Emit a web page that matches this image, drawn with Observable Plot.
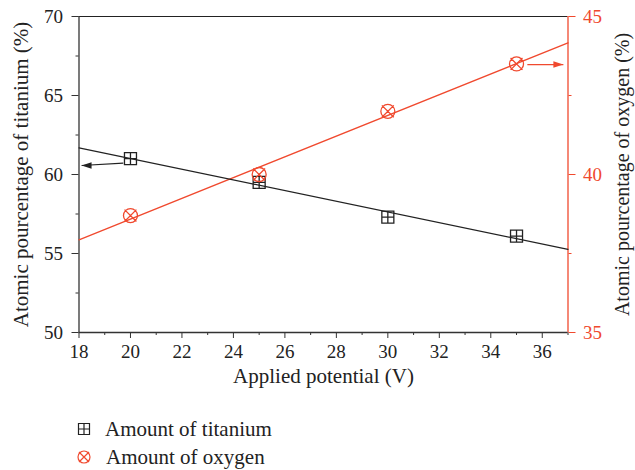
<!DOCTYPE html>
<html>
<head>
<meta charset="utf-8">
<script src="https://cdn.jsdelivr.net/npm/d3@7"></script>
<script src="https://cdn.jsdelivr.net/npm/@observablehq/plot@0.6"></script>
<style>
  html, body { margin: 0; padding: 0; background: #fff; }
  #chart { width: 635px; font-family: "Liberation Serif", "DejaVu Serif", serif; }
  .legend { position: relative; height: 65px; font-family: "Liberation Serif", serif; font-size: 21px; color: #222; }
  .legend .row { position: absolute; left: 76px; height: 24px; display: flex; align-items: center; }
  .legend .row svg { margin-right: 14px; }
</style>
</head>
<body>
<div id="chart"></div>
<script>
// ---- data ----
const voltage = [20, 25, 30, 35];
const titanium = [61.0, 59.5, 57.3, 56.1];   // left axis (%)
const oxygen = [38.7, 40.0, 42.0, 43.5];     // right axis (%)
const seriesNames = ["Amount of titanium", "Amount of oxygen"];
const xTicks = [18, 20, 22, 24, 26, 28, 30, 32, 34, 36];
const xMinor = [19, 21, 23, 25, 27, 29, 31, 33, 35, 37];
const leftTicks = [50, 55, 60, 65, 70];
const leftMinor = [52.5, 57.5, 62.5, 67.5];
const rightTicks = [35, 40, 45];
const rightMinor = [37.5, 42.5];
// annotation arrows (data units: x, titanium %, oxygen %)
const tiArrow = {x1: 19.72, y1: 60.72, x2: 18.1, y2: 60.57};
const oxArrow = {x1: 35.42, y1: 43.48, x2: 36.82, y2: 43.48};

const RED = "#f0492e";
const INK = "#222";
const FONT = "'Liberation Serif', 'DejaVu Serif', serif";
const xDomain = [18, 37];
const yDomain = [50, 70];
const oDomain = [35, 45];
// map oxygen scale onto the left scale
const o2y = o => yDomain[0] + (o - oDomain[0]) * (yDomain[1] - yDomain[0]) / (oDomain[1] - oDomain[0]);
const y2o = y => oDomain[0] + (y - yDomain[0]) * (oDomain[1] - oDomain[0]) / (yDomain[1] - yDomain[0]);

function fit(xs, ys) {
  const mx = d3.mean(xs), my = d3.mean(ys);
  const b = d3.sum(xs, (x, i) => (x - mx) * (ys[i] - my)) / d3.sum(xs, x => (x - mx) ** 2);
  return x => my + b * (x - mx);
}
const fTi = fit(voltage, titanium);
const fOx = fit(voltage, oxygen);
const tiLine = xDomain.map(x => ({x, y: fTi(x)}));
const oxLine = xDomain.map(x => ({x, y: o2y(fOx(x))}));

const tiData = voltage.map((x, i) => ({x, y: titanium[i]}));
const oxData = voltage.map((x, i) => ({x, y: o2y(oxygen[i])}));

const squarePlus = {
  draw(ctx, size) {
    const r = Math.sqrt(size / Math.PI);
    ctx.moveTo(-r, -r); ctx.lineTo(r, -r); ctx.lineTo(r, r); ctx.lineTo(-r, r); ctx.closePath();
    ctx.moveTo(-r, 0); ctx.lineTo(r, 0);
    ctx.moveTo(0, -r); ctx.lineTo(0, r);
  }
};
const circleTimes = {
  draw(ctx, size) {
    const r = Math.sqrt(size / Math.PI);
    ctx.moveTo(r, 0); ctx.arc(0, 0, r, 0, 2 * Math.PI);
    const k = r * 0.85;
    ctx.moveTo(-k, -k); ctx.lineTo(k, k);
    ctx.moveTo(-k, k); ctx.lineTo(k, -k);
  }
};
// filled arrow head, tip at origin, pointing to +x
const arrowHead = {
  draw(ctx, size) {
    const L = Math.sqrt(size / Math.PI);
    ctx.moveTo(0, 0); ctx.lineTo(-L, -L * 0.32); ctx.lineTo(-L, L * 0.32); ctx.closePath();
  }
};

const oxArrowY = {...oxArrow, y1: o2y(oxArrow.y1), y2: o2y(oxArrow.y2)};
const arrows = [
  {...tiArrow, c: INK, rot: 180},
  {...oxArrowY, c: RED, rot: 0}
];

const tickText = {fontSize: 19, fontFamily: FONT};

const chart = Plot.plot({
  width: 635,
  height: 405,
  marginLeft: 78.5,
  marginRight: 67.5,
  marginTop: 16,
  marginBottom: 73,
  style: {fontFamily: FONT, fontSize: "19px", color: INK, background: "#fff", overflow: "visible"},
  x: {domain: xDomain},
  y: {domain: yDomain},
  marks: [
    // axes: major + minor ticks
    Plot.axisX({ticks: xTicks, tickSize: 6, tickPadding: 6, label: null, stroke: "#333", fill: INK, ...tickText}),
    Plot.axisX({ticks: xMinor, tickSize: 3, tickFormat: () => "", label: null, stroke: "#333"}),
    Plot.axisY({anchor: "left", ticks: leftTicks, tickSize: 7, tickPadding: 9, label: null, stroke: "#333", fill: INK, ...tickText}),
    Plot.axisY({anchor: "left", ticks: leftMinor, tickSize: 3, tickFormat: () => "", label: null, stroke: "#333"}),
    Plot.axisY({anchor: "right", ticks: rightTicks.map(o2y), tickFormat: d => d3.format("d")(y2o(d)), tickSize: 7, tickPadding: 8, label: null, stroke: RED, fill: RED, ...tickText}),
    Plot.axisY({anchor: "right", ticks: rightMinor.map(o2y), tickSize: 3, tickFormat: () => "", label: null, stroke: RED}),
    // frame lines
    Plot.ruleY([yDomain[1]], {stroke: INK, strokeWidth: 1.2}),
    Plot.ruleY([yDomain[0]], {stroke: "#333", strokeWidth: 1.3}),
    Plot.ruleX([xDomain[0]], {stroke: "#333", strokeWidth: 1.3}),
    Plot.ruleX([xDomain[1]], {stroke: RED, strokeWidth: 1.3}),
    // fitted lines
    Plot.line(oxLine, {x: "x", y: "y", stroke: RED, strokeWidth: 1.3}),
    Plot.line(tiLine, {x: "x", y: "y", stroke: INK, strokeWidth: 1.2}),
    // points
    Plot.dot(tiData, {x: "x", y: "y", symbol: squarePlus, r: 6, stroke: INK, strokeWidth: 1.3, fill: "none"}),
    Plot.dot(oxData, {x: "x", y: "y", symbol: circleTimes, r: 7, stroke: RED, strokeWidth: 1.3, fill: "none"}),
    // arrows: shaft + filled head
    Plot.link(arrows, {x1: "x1", y1: "y1", x2: "x2", y2: "y2", stroke: "c", strokeWidth: 1.2}),
    Plot.dot(arrows, {x: "x2", y: "y2", symbol: arrowHead, r: 10, rotate: "rot", fill: "c", stroke: "none"}),
    // axis titles
    Plot.text(["Applied potential (V)"], {frameAnchor: "bottom", dy: 50, fontSize: 21, fontFamily: FONT, fill: INK}),
    Plot.text(["Atomic pourcentage of titanium (%)"], {frameAnchor: "left", dx: -58, rotate: -90, textAnchor: "middle", lineAnchor: "middle", fontSize: 21, fontFamily: FONT, fill: INK}),
    Plot.text(["Atomic pourcentage of oxygen (%)"], {frameAnchor: "right", dx: 55, rotate: -90, textAnchor: "middle", lineAnchor: "middle", fontSize: 20, fontFamily: FONT, fill: INK})
  ]
});

const root = document.getElementById("chart");
root.appendChild(chart);

// legend below the plot
const legend = document.createElement("div");
legend.className = "legend";
const icons = [
  `<svg width="14" height="14" viewBox="-7 -7 14 14"><path d="M-5.5,-5.5H5.5V5.5H-5.5Z M-5.5,0H5.5 M0,-5.5V5.5" fill="none" stroke="${INK}" stroke-width="1.2"/></svg>`,
  `<svg width="16" height="16" viewBox="-8 -8 16 16"><circle r="6" fill="none" stroke="${RED}" stroke-width="1.2"/><path d="M-5,-5L5,5M-5,5L5,-5" stroke="${RED}" stroke-width="1.2"/></svg>`
];
seriesNames.forEach((name, i) => {
  const row = document.createElement("div");
  row.className = "row";
  row.style.top = (i === 0 ? 12 : 40) + "px";
  row.style.left = (i === 0 ? 77 : 76) + "px";
  row.innerHTML = icons[i] + `<span>${name}</span>`;
  legend.appendChild(row);
});
root.appendChild(legend);
</script>
</body>
</html>
